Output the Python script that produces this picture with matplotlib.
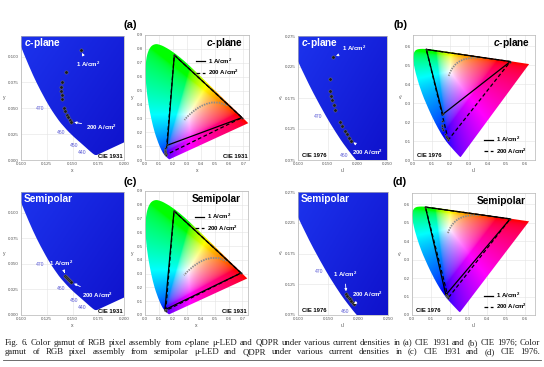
import numpy as np
import matplotlib
matplotlib.use("Agg")
import matplotlib.pyplot as plt
from matplotlib.path import Path
from matplotlib.patches import PathPatch
from matplotlib.lines import Line2D
from matplotlib.ticker import FormatStrFormatter, MultipleLocator

plt.rcParams['font.family'] = ['Liberation Sans', 'DejaVu Sans']
plt.rcParams['mathtext.fontset'] = 'custom'
plt.rcParams['mathtext.rm'] = 'Liberation Sans:bold'
plt.rcParams['mathtext.it'] = 'Liberation Sans:italic:bold'

# CIE 1931 2-deg spectral locus
locus_nm = [380, 385, 390, 395, 400, 405, 410, 415, 420, 425, 430, 435, 440, 445,
            450, 455, 460, 465, 470, 475, 480, 485, 490, 495, 500, 505, 510, 515,
            520, 525, 530, 535, 540, 545, 550, 555, 560, 565, 570, 575, 580, 585,
            590, 595, 600, 605, 610, 615, 620, 625, 630, 635, 640, 645, 650, 655,
            660, 665, 670, 675, 680, 690, 700]
locus_x = [0.1741, 0.1740, 0.1738, 0.1736, 0.1733, 0.1730, 0.1726, 0.1721, 0.1714,
           0.1703, 0.1689, 0.1669, 0.1644, 0.1611, 0.1566, 0.1510, 0.1440, 0.1355,
           0.1241, 0.1096, 0.0913, 0.0687, 0.0454, 0.0235, 0.0082, 0.0039, 0.0139,
           0.0389, 0.0743, 0.1142, 0.1547, 0.1929, 0.2296, 0.2658, 0.3016, 0.3373,
           0.3731, 0.4087, 0.4441, 0.4788, 0.5125, 0.5448, 0.5752, 0.6029, 0.6270,
           0.6482, 0.6658, 0.6801, 0.6915, 0.7006, 0.7079, 0.7140, 0.7190, 0.7230,
           0.7260, 0.7283, 0.7300, 0.7311, 0.7320, 0.7327, 0.7334, 0.7344, 0.7347]
locus_y = [0.0050, 0.0050, 0.0049, 0.0049, 0.0048, 0.0048, 0.0048, 0.0048, 0.0051,
           0.0058, 0.0069, 0.0086, 0.0109, 0.0138, 0.0177, 0.0227, 0.0297, 0.0399,
           0.0578, 0.0868, 0.1327, 0.2007, 0.2950, 0.4127, 0.5384, 0.6548, 0.7502,
           0.8120, 0.8338, 0.8262, 0.8059, 0.7816, 0.7543, 0.7243, 0.6923, 0.6589,
           0.6245, 0.5896, 0.5547, 0.5202, 0.4866, 0.4544, 0.4242, 0.3965, 0.3725,
           0.3514, 0.3340, 0.3197, 0.3083, 0.2993, 0.2920, 0.2859, 0.2809, 0.2770,
           0.2740, 0.2717, 0.2700, 0.2689, 0.2680, 0.2673, 0.2666, 0.2656, 0.2653]

# Planckian locus (1500 K ... 10000 K)
planck_x = [0.5857, 0.5267, 0.4770, 0.4369, 0.4053, 0.3805, 0.3451, 0.3221, 0.3064, 0.2952, 0.2807]
planck_y = [0.3931, 0.4133, 0.4137, 0.4041, 0.3907, 0.3768, 0.3516, 0.3318, 0.3166, 0.3048, 0.2883]

# blue u-LED chromaticity, 1 -> 200 A/cm2 (CIE 1931 x, y)
cplane_blue_x = [0.1580, 0.1437, 0.1395, 0.1393, 0.1393, 0.1395, 0.1400, 0.1418, 0.1430, 0.1445, 0.1460, 0.1475, 0.1490]
cplane_blue_y = [0.1060, 0.0850, 0.0750, 0.0710, 0.0670, 0.0630, 0.0595, 0.0500, 0.0470, 0.0440, 0.0415, 0.0390, 0.0370]
semi_blue_x = [0.1432, 0.1440, 0.1450, 0.1460, 0.1470, 0.1480, 0.1490]
semi_blue_y = [0.0385, 0.0372, 0.0360, 0.0348, 0.0337, 0.0327, 0.0318]

# QDPR green / red
green_x, green_y = 0.2085, 0.755
red_x, red_y = 0.690, 0.305

wl_marks = [470, 460, 450, 440]
cur_labels = ['1 A/cm$^2$', '200 A/cm$^2$']

W, H = 544, 367
fig = plt.figure(figsize=(W / 100, H / 100), dpi=100)


def rect(l, t, r, b):
    return [l / W, 1 - b / H, (r - l) / W, (b - t) / H]


def smooth(px, py, n=8):
    p = np.column_stack([px, py])
    p = np.vstack([p[0], p, p[-1]])
    out = []
    for i in range(1, len(p) - 2):
        p0, p1, p2, p3 = p[i - 1], p[i], p[i + 1], p[i + 2]
        for t in np.linspace(0, 1, n, endpoint=False):
            out.append(0.5 * (2 * p1 + (-p0 + p2) * t + (2 * p0 - 5 * p1 + 4 * p2 - p3) * t ** 2
                              + (-p0 + 3 * p1 - 3 * p2 + p3) * t ** 3))
    out.append(p[-2])
    return np.array(out)


def to_uv(x, y):
    x = np.asarray(x, float)
    y = np.asarray(y, float)
    d = -2 * x + 12 * y + 3
    return 4 * x / d, 9 * y / d


def from_uv(u, v):
    d = 6 * u - 16 * v + 12
    return 9 * u / d, 4 * v / d


def chroma_rgb(x, y):
    y = np.maximum(y, 1e-3)
    xyz = np.stack([x / y, np.ones_like(x), (1 - x - y) / y], -1)
    M = np.array([[3.2406, -1.5372, -0.4986],
                  [-0.9689, 1.8758, 0.0415],
                  [0.0557, -0.2040, 1.0570]])
    rgb = np.clip(xyz @ M.T, 0, None)
    rgb = rgb / np.maximum(rgb.max(-1, keepdims=True), 1e-6)
    rgb = np.where(rgb <= 0.0031308, 12.92 * rgb, 1.055 * rgb ** (1 / 2.4) - 0.055)
    return np.clip(rgb, 0, 1)


loc = smooth(locus_x, locus_y)


def locus_pts(uv):
    if uv:
        u, v = to_uv(loc[:, 0], loc[:, 1])
        return np.column_stack([u, v])
    return loc


def conv(x, y, uv):
    if uv:
        return to_uv(x, y)
    return np.asarray(x), np.asarray(y)


def style_axes(ax, xlim, ylim, xstep, ystep, fmt, xl, yl):
    ax.set_xlim(xlim)
    ax.set_ylim(ylim)
    ax.set_aspect('auto')
    ax.xaxis.set_major_locator(MultipleLocator(xstep))
    ax.yaxis.set_major_locator(MultipleLocator(ystep))
    ax.xaxis.set_major_formatter(FormatStrFormatter(fmt))
    ax.yaxis.set_major_formatter(FormatStrFormatter(fmt))
    ax.tick_params(labelsize=3.2, length=0, pad=1.5, colors='#555555')
    ax.grid(color='#e4e4e4', lw=0.4)
    ax.set_axisbelow(True)
    for s in ax.spines.values():
        s.set_color('#b5b5b5')
        s.set_linewidth(0.5)
    ax.set_xlabel(xl, fontsize=3.6, labelpad=1.5, color='#555555')
    ax.set_ylabel(yl, fontsize=3.6, labelpad=3, color='#555555', rotation=0, va='center')


def zoom_panel(box, uv, bx, by, title, off1, off200, cie_left):
    ax = fig.add_axes(rect(*box))
    if uv:
        xlim, ylim = (0.100, 0.250), (0.075, 0.275)
        style_axes(ax, xlim, ylim, 0.05, 0.05, '%.3f', "u'", "v'")
        ax.set_yticks([0.075, 0.125, 0.175, 0.225, 0.275])
    else:
        xlim, ylim = (0.100, 0.200), (0.0, 0.12)
        style_axes(ax, xlim, ylim, 0.025, 0.025, '%.3f', 'x', 'y')
    patch = PathPatch(Path(locus_pts(uv)), facecolor='none', edgecolor='none')
    ax.add_patch(patch)
    gx, gy = np.meshgrid(np.linspace(0, 1, 64), np.linspace(0, 1, 64))
    t = (gx * 0.55 + (1 - gy) * 0.45)[..., None]
    grad = np.array([0.11, 0.20, 0.93]) * (1 - t) + np.array([0.06, 0.07, 0.80]) * t
    im = ax.imshow(grad, origin='lower', extent=(*xlim, *ylim), aspect='auto', zorder=1)
    im.set_clip_path(patch)

    lx, ly = conv(locus_x, locus_y, uv)
    for wl in wl_marks:
        i = locus_nm.index(wl)
        if ylim[0] < ly[i] < ylim[1]:
            dy = -6 if (wl == 470 and not uv) else -2.5
            ax.annotate(str(wl), (lx[i], ly[i]), xytext=(-4, dy), textcoords='offset points',
                        fontsize=3.6, color='#5c5cd6', ha='center', va='center', zorder=3)

    px, py = conv(bx, by, uv)
    ax.plot(px, py, 'o', ms=2.4, mfc='#1a1a1a', mec='#7a7a7a', mew=0.3, zorder=4)
    for k, (i, off) in enumerate([(0, off1), (-1, off200)]):
        ax.annotate(cur_labels[k], (px[i], py[i]), xytext=off, textcoords='offset points',
                    fontsize=4.4, color='white', weight='bold', ha='center', va='center', zorder=5,
                    arrowprops=dict(arrowstyle='-|>', color='white', lw=0.6,
                                    mutation_scale=3.5, shrinkA=1.5, shrinkB=2))

    txt = '$c$-plane' if title == 'c-plane' else title
    ax.text(0.03, 0.94, txt, transform=ax.transAxes, color='white', fontsize=7.3,
            weight='bold', ha='left', va='center', zorder=5)
    if cie_left:
        ax.text(0.04, 0.015, 'CIE 1976', transform=ax.transAxes, fontsize=4.2, weight='bold',
                ha='left', va='bottom', zorder=5)
    else:
        ax.text(0.985, 0.01, 'CIE 1931', transform=ax.transAxes, fontsize=4.2, weight='bold',
                ha='right', va='bottom', zorder=5)
    return ax


def full_panel(box, uv, bx, by, title, title_x, leg_anchor):
    ax = fig.add_axes(rect(*box))
    if uv:
        xlim, ylim = (0.0, 0.655), (0.0, 0.66)
        style_axes(ax, xlim, ylim, 0.1, 0.1, '%.1f', "u'", "v'")
        gu, gv = np.meshgrid(np.linspace(0, 0.655, 330), np.linspace(0.001, 0.66, 330))
        gxx, gyy = from_uv(gu, gv)
    else:
        xlim, ylim = (0.0, 0.74), (0.0, 0.9)
        style_axes(ax, xlim, ylim, 0.1, 0.1, '%.1f', 'x', 'y')
        gxx, gyy = np.meshgrid(np.linspace(0, 0.74, 330), np.linspace(0.001, 0.9, 400))
    rgb = chroma_rgb(gxx, gyy)
    patch = PathPatch(Path(locus_pts(uv)), facecolor='none', edgecolor='none')
    ax.add_patch(patch)
    im = ax.imshow(rgb, origin='lower', extent=(*xlim, *ylim), aspect='auto',
                   interpolation='bilinear', zorder=1)
    im.set_clip_path(patch)

    plx, ply = conv(planck_x, planck_y, uv)
    ax.plot(plx, ply, color='#8c8c8c', lw=1.3, ls=(0, (0.8, 0.6)), zorder=3)

    gx_, gy_ = conv([green_x], [green_y], uv)
    rx_, ry_ = conv([red_x], [red_y], uv)
    pbx, pby = conv(bx, by, uv)
    for k, i, ls in [(0, 0, '-'), (1, -1, (0, (3, 2)))]:
        tx = [pbx[i], gx_[0], rx_[0], pbx[i]]
        ty = [pby[i], gy_[0], ry_[0], pby[i]]
        ax.plot(tx, ty, color='black', lw=0.9, ls=ls, zorder=4, label=cur_labels[k])
    ax.plot(pbx, pby, 'o', ms=1.3, mfc='#222222', mec='#888888', mew=0.2, zorder=5)
    ax.plot([gx_[0], rx_[0]], [gy_[0], ry_[0]], 'o', ms=1.3, mfc='#222222', mec='#555555', mew=0.2, zorder=5)

    txt = '$c$-plane' if title == 'c-plane' else title
    ax.text(title_x, 0.935, txt, transform=ax.transAxes, fontsize=7.3, weight='bold',
            ha='right', va='center', zorder=6)
    ax.legend(loc='upper left', bbox_to_anchor=leg_anchor, frameon=False,
              prop={'size': 4.4, 'weight': 'bold'}, handlelength=1.4, handletextpad=0.5,
              labelspacing=0.35, borderpad=0, borderaxespad=0)
    if uv:
        ax.text(0.03, 0.015, 'CIE 1976', transform=ax.transAxes, fontsize=4.2, weight='bold',
                ha='left', va='bottom', zorder=6)
    else:
        ax.text(0.985, 0.01, 'CIE 1931', transform=ax.transAxes, fontsize=4.2, weight='bold',
                ha='right', va='bottom', zorder=6)
    return ax


# top row: c-plane
zoom_panel((21, 36, 124, 160), False, cplane_blue_x, cplane_blue_y, 'c-plane', (5, -10), (22, -4), False)
full_panel((145, 35, 249, 160), False, cplane_blue_x, cplane_blue_y, 'c-plane', 0.94, (0.49, 0.83))
zoom_panel((298, 36, 387, 160), True, cplane_blue_x, cplane_blue_y, 'c-plane', (15, 6), (12, -8), True)
full_panel((413, 35, 535, 160), True, cplane_blue_x, cplane_blue_y, 'c-plane', 0.96, (0.585, 0.2))

# bottom row: semipolar
zoom_panel((21, 192, 124, 315), False, semi_blue_x, semi_blue_y, 'Semipolar', (-3, 9), (19, -9), False)
full_panel((145, 191, 248, 315), False, semi_blue_x, semi_blue_y, 'Semipolar', 0.93, (0.49, 0.83))
zoom_panel((298, 192, 388, 315), True, semi_blue_x, semi_blue_y, 'Semipolar', (-1, 14), (10, 7), True)
full_panel((412, 193, 535, 315), True, semi_blue_x, semi_blue_y, 'Semipolar', 0.925, (0.585, 0.2))

for lab, (px, py) in zip(['(a)', '(b)', '(c)', '(d)'], [(130, 25), (400, 25), (130, 182), (400, 182)]):
    fig.text(px / W, 1 - py / H, lab, fontsize=8, weight='bold', ha='center', va='center')

# justified caption
cap_lines = [
    "Fig. 6. Color gamut of RGB pixel assembly from c-plane \u03bc-LED and QDPR under various current densities in (a) CIE 1931 and (b) CIE 1976; Color",
    "gamut of RGB pixel assembly from semipolar \u03bc-LED and QDPR under various current densities in (c) CIE 1931 and (d) CIE 1976.",
]
renderer = fig.canvas.get_renderer()
x0, x1 = 5, 540
cap_size = 6.0
# fit font so the first line has natural word spacing
probe = fig.text(0, 0, cap_lines[0], fontsize=cap_size, family='Liberation Serif')
nat = probe.get_window_extent(renderer).width
probe.remove()
cap_size = cap_size * (x1 - x0) / nat

for line, ypx in zip(cap_lines, [345, 354]):
    groups = []
    for w in line.split(' '):
        parts = [('c', 'italic'), ('-plane', 'normal')] if w == 'c-plane' else [(w, 'normal')]
        ts = [fig.text(0, 1 - ypx / H, s, fontsize=cap_size, family='Liberation Serif', style=st,
                       va='baseline', ha='left', color='#1a1a1a') for s, st in parts]
        groups.append(ts)
    widths = [[t.get_window_extent(renderer).width for t in g] for g in groups]
    total = sum(sum(w) for w in widths)
    gap = (x1 - x0 - total) / (len(groups) - 1)
    pos = x0
    for g, ws in zip(groups, widths):
        for t, w in zip(g, ws):
            t.set_x(pos / W)
            pos += w
        pos += gap

fig.add_artist(Line2D([3 / W, 541 / W], [1 - 360 / H] * 2, color='#555555', lw=0.6))

fig.savefig('out.png', dpi=100)
